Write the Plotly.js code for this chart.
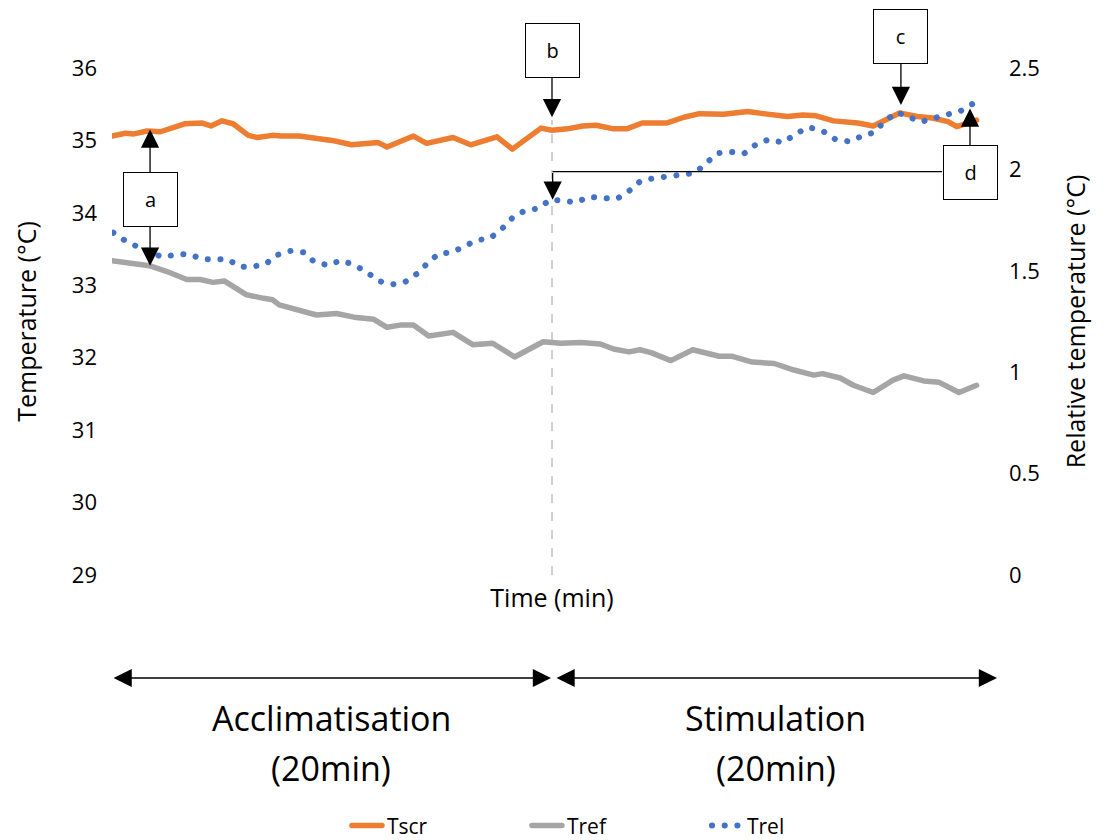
<!DOCTYPE html>
<html>
<head>
<meta charset="utf-8">
<script src="https://cdn.plot.ly/plotly-3.0.1.min.js"></script>
<style>
  html, body { margin: 0; padding: 0; background: #fff; }
  #chart { width: 1105px; height: 840px; }
  .scatterlayer .js-line, .legendlines .js-line { stroke-linecap: round; stroke-linejoin: round; }
</style>
</head>
<body>
<div id="chart"></div>
<script>
// ---- Data (time in minutes) ----
const tscrTime = [0.0,0.6,1.0,1.6,2.2,2.7,3.3,4.1,4.5,5.0,5.5,6.2,6.6,7.3,7.7,8.5,9.2,10.0,10.9,11.8,12.1,12.5,13.3,13.7,14.3,14.9,15.5,16.3,16.9,17.5,18.2,18.9,19.5,20.0,20.7,21.4,22.0,22.8,23.4,24.1,25.2,26.0,26.7,27.8,28.9,29.6,30.7,31.4,32.0,32.8,33.9,34.6,35.0,35.8,36.6,37.3,38.0,38.4,38.9,39.3];
const tscrValues = [35.06,35.10,35.09,35.13,35.12,35.17,35.23,35.24,35.20,35.27,35.23,35.07,35.04,35.07,35.06,35.06,35.03,35.00,34.94,34.97,34.97,34.91,35.00,35.06,34.96,35.00,35.04,34.94,34.99,35.05,34.88,35.03,35.17,35.14,35.16,35.20,35.21,35.16,35.16,35.24,35.24,35.32,35.37,35.36,35.40,35.37,35.33,35.35,35.34,35.27,35.24,35.20,35.26,35.38,35.33,35.31,35.26,35.19,35.24,35.28];

const trefTime = [0.0,0.8,1.7,2.5,3.4,4.0,4.6,5.1,5.5,6.1,6.9,7.3,7.6,8.5,9.3,10.2,11.0,11.9,12.5,13.1,13.7,14.4,15.5,16.4,17.3,18.3,19.0,19.6,20.4,21.3,22.2,22.8,23.5,24.0,24.5,25.4,26.4,27.6,28.2,29.1,30.1,31.0,31.9,32.3,33.1,33.7,34.6,35.5,36.0,36.9,37.6,38.5,39.3];
const trefValues = [33.34,33.31,33.27,33.19,33.08,33.08,33.04,33.06,32.99,32.87,32.82,32.80,32.73,32.66,32.59,32.61,32.56,32.53,32.42,32.45,32.45,32.30,32.35,32.18,32.20,32.01,32.13,32.22,32.20,32.21,32.19,32.12,32.08,32.11,32.07,31.96,32.11,32.02,32.02,31.94,31.92,31.83,31.76,31.78,31.72,31.62,31.52,31.69,31.75,31.68,31.66,31.52,31.62];

const trelTime = [0.06,0.55,1.15,1.73,2.30,2.94,3.55,4.09,4.67,5.26,5.82,6.35,6.97,7.49,8.12,8.73,9.18,9.82,10.40,11.0,11.58,12.10,12.76,13.32,13.90,14.38,14.85,15.44,16.0,16.55,17.18,17.74,18.21,18.74,19.38,19.93,20.49,21.09,21.68,22.33,22.94,23.51,24.02,24.60,25.18,25.86,26.50,27.03,27.51,28.05,28.74,29.26,29.86,30.51,31.08,31.65,32.29,32.86,33.55,34.05,34.65,35.14,35.67,36.24,36.76,37.38,37.97,38.58,39.15];
const trelValues = [1.688,1.652,1.619,1.594,1.567,1.581,1.581,1.557,1.558,1.557,1.520,1.520,1.532,1.578,1.598,1.591,1.545,1.527,1.552,1.529,1.494,1.450,1.433,1.445,1.488,1.542,1.584,1.591,1.619,1.650,1.660,1.709,1.762,1.795,1.808,1.851,1.846,1.837,1.865,1.857,1.854,1.894,1.942,1.956,1.964,1.971,1.982,2.033,2.079,2.087,2.079,2.122,2.148,2.132,2.175,2.208,2.191,2.150,2.137,2.163,2.183,2.239,2.282,2.258,2.234,2.253,2.268,2.289,2.325];

const seriesNames = ['Tscr', 'Tref', 'Trel'];
const phaseLabels = ['Acclimatisation', 'Stimulation'];
const phaseDuration = '(20min)';
const markerLabels = ['a', 'b', 'c', 'd'];

const FONT = '"Open Sans", "Noto Sans", sans-serif';
const ORANGE = '#ED7D31', GREY = '#A5A5A5', BLUE = '#4472C4';

const traces = [
  { x: tscrTime, y: tscrValues, name: seriesNames[0], type: 'scatter', mode: 'lines',
    line: { color: ORANGE, width: 5.5 }, yaxis: 'y' },
  { x: trefTime, y: trefValues, name: seriesNames[1], type: 'scatter', mode: 'lines',
    line: { color: GREY, width: 5.5 }, yaxis: 'y' },
  { x: trelTime, y: trelValues, name: seriesNames[2], type: 'scatter', mode: 'lines',
    line: { color: BLUE, width: 6, dash: '0.1px,12.6px' }, yaxis: 'y2' }
];

const boxStyle = { width: 53, height: 53, bordercolor: '#000', borderwidth: 1, borderpad: 0,
  bgcolor: '#fff', font: { family: FONT, size: 20, color: '#000' } };
const arrowStyle = { showarrow: true, arrowhead: 2, arrowsize: 2.8, arrowwidth: 1.3, arrowcolor: '#000' };
const phaseFont = { family: FONT, size: 34, color: '#000' };

const annotations = [
  // a (up to Tscr, down to Tref/Trel)
  Object.assign({ x: 1.73, y: 35.15, xref: 'x', yref: 'y', ax: 0, ay: 70, text: markerLabels[0] }, boxStyle, arrowStyle),
  Object.assign({ x: 1.73, y: 33.27, xref: 'x', yref: 'y', ax: 0, ay: -66, text: ' ',
    width: 53, height: 53, borderpad: 0 }, arrowStyle),
  // b
  Object.assign({ x: 20, y: 35.32, xref: 'x', yref: 'y', ax: 0, ay: -66.5, text: markerLabels[1] }, boxStyle, arrowStyle),
  // c
  Object.assign({ x: 35.86, y: 35.49, xref: 'x', yref: 'y', ax: 0, ay: -68.5, text: markerLabels[2] }, boxStyle, arrowStyle),
  // d
  Object.assign({ x: 39.0, y: 35.44, xref: 'x', yref: 'y', ax: 0, ay: 64.2, text: markerLabels[3] }, boxStyle, arrowStyle),
  Object.assign({ x: 20.03, y: 34.18, xref: 'x', yref: 'y', ax: 0, ay: -28.3, text: '' }, arrowStyle),
  // phase double arrows
  Object.assign({ x: 0.4989, y: -0.2032, xref: 'paper', yref: 'paper', axref: 'pixel', ayref: 'pixel',
    ax: -439, ay: 0, text: '', arrowside: 'end+start' }, arrowStyle),
  Object.assign({ x: 1.0057, y: -0.2032, xref: 'paper', yref: 'paper', axref: 'pixel', ayref: 'pixel',
    ax: -442, ay: 0, text: '', arrowside: 'end+start' }, arrowStyle),
  // phase labels
  { x: 0.249, y: -0.282, xref: 'paper', yref: 'paper', xanchor: 'center', yanchor: 'middle',
    text: phaseLabels[0], showarrow: false, font: phaseFont },
  { x: 0.249, y: -0.381, xref: 'paper', yref: 'paper', xanchor: 'center', yanchor: 'middle',
    text: phaseDuration, showarrow: false, font: phaseFont },
  { x: 0.7545, y: -0.282, xref: 'paper', yref: 'paper', xanchor: 'center', yanchor: 'middle',
    text: phaseLabels[1], showarrow: false, font: phaseFont },
  { x: 0.7545, y: -0.381, xref: 'paper', yref: 'paper', xanchor: 'center', yanchor: 'middle',
    text: phaseDuration, showarrow: false, font: phaseFont }
];

const shapes = [
  // vertical dashed separator at 20 min
  { type: 'line', xref: 'x', yref: 'y', x0: 20, x1: 20, y0: 29, y1: 35.28,
    line: { color: '#A0A0A0', width: 1, dash: 'dash' } },
  // connector from box d
  { type: 'line', xref: 'x', yref: 'y', x0: 20.03, x1: 37.73, y0: 34.57, y1: 34.57,
    line: { color: '#000', width: 1.3 } }
];

const layout = {
  width: 1105, height: 840,
  margin: { l: 112, r: 113, t: 68, b: 265, autoexpand: false },
  paper_bgcolor: '#fff', plot_bgcolor: '#fff',
  font: { family: FONT, color: '#000' },
  showlegend: true,
  legend: { orientation: 'h', x: 0.267, xanchor: 'left', y: -0.495, yanchor: 'middle',
    font: { family: FONT, size: 21, color: '#000' }, entrywidth: 135, entrywidthmode: 'pixels' },
  xaxis: { range: [0, 40], showgrid: false, zeroline: false, showline: false,
    showticklabels: false, ticks: '',
    title: { text: 'Time (min)', font: { family: FONT, size: 25, color: '#000' }, standoff: 14 } },
  yaxis: { range: [29, 36], dtick: 1, showgrid: false, zeroline: false, showline: false, ticks: '',
    ticklabelstandoff: 14, tickfont: { family: FONT, size: 22, color: '#000' },
    title: { text: 'Temperature (°C)', font: { family: FONT, size: 25, color: '#000' }, standoff: 28 } },
  yaxis2: { range: [0, 2.5], dtick: 0.5, overlaying: 'y', side: 'right', showgrid: false, zeroline: false,
    showline: false, ticks: '', ticklabelstandoff: 16, tickfont: { family: FONT, size: 22, color: '#000' },
    title: { text: 'Relative temperature (°C)', font: { family: FONT, size: 25, color: '#000' }, standoff: 28 } },
  annotations: annotations,
  shapes: shapes
};

Plotly.newPlot('chart', traces, layout, { displayModeBar: false, staticPlot: true });
</script>
</body>
</html>
